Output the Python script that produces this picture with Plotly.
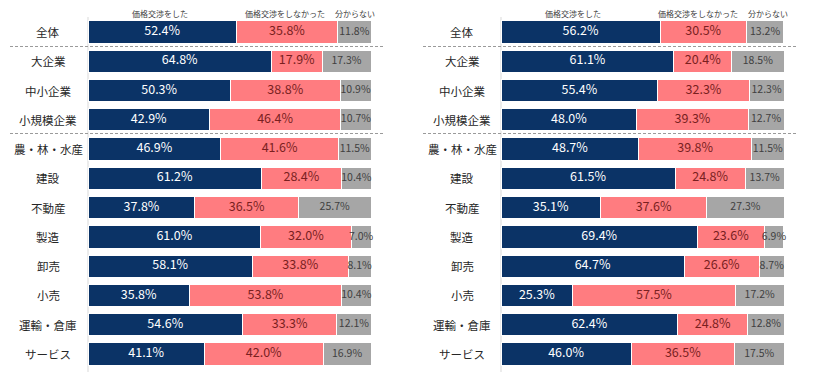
import plotly.graph_objects as go

categories = ["全体", "大企業", "中小企業", "小規模企業", "農・林・水産", "建設",
              "不動産", "製造", "卸売", "小売", "運輸・倉庫", "サービス"]
series_names = ["価格交渉をした", "価格交渉をしなかった", "分からない"]

left_did = [52.4, 64.8, 50.3, 42.9, 46.9, 61.2, 37.8, 61.0, 58.1, 35.8, 54.6, 41.1]
left_didnot = [35.8, 17.9, 38.8, 46.4, 41.6, 28.4, 36.5, 32.0, 33.8, 53.8, 33.3, 42.0]
left_unknown = [11.8, 17.3, 10.9, 10.7, 11.5, 10.4, 25.7, 7.0, 8.1, 10.4, 12.1, 16.9]

right_did = [56.2, 61.1, 55.4, 48.0, 48.7, 61.5, 35.1, 69.4, 64.7, 25.3, 62.4, 46.0]
right_didnot = [30.5, 20.4, 32.3, 39.3, 39.8, 24.8, 37.6, 23.6, 26.6, 57.5, 24.8, 36.5]
right_unknown = [13.2, 18.5, 12.3, 12.7, 11.5, 13.7, 27.3, 6.9, 8.7, 17.2, 12.8, 17.5]

colors = ["#0B3366", "#FF7C80", "#A6A6A6"]
text_colors = ["#FFFFFF", "#7A1F1F", "#404040"]
text_sizes = [12.5, 12.5, 10.5]
FONT = "Noto Sans CJK JP"

# page has an 8px body margin: figure pixel = screenshot pixel - 8
OFF = 8
W, H = 802, 365


def px(x):
    return (x - OFF) / W


def py(y):
    return 1 - (y - OFF) / H


fig = go.Figure()

panels = [("x", "y", [left_did, left_didnot, left_unknown]),
          ("x2", "y2", [right_did, right_didnot, right_unknown])]

for xa, ya, vals in panels:
    base = [0.0] * len(categories)
    for i, (name, v) in enumerate(zip(series_names, vals)):
        fig.add_trace(go.Bar(
            y=categories, x=v, orientation="h", name=name,
            xaxis=xa, yaxis=ya,
            marker=dict(color=colors[i], line=dict(color="white", width=1)),
            width=0.76, showlegend=False, hoverinfo="skip",
        ))
        mids = [b + val / 2 for b, val in zip(base, v)]
        fig.add_trace(go.Scatter(
            x=mids, y=categories, mode="text", xaxis=xa, yaxis=ya,
            text=[f"{val:.1f}%" for val in v],
            textposition="middle center",
            textfont=dict(color=text_colors[i], size=text_sizes[i], family=FONT),
            showlegend=False, cliponaxis=False, hoverinfo="skip",
        ))
        base = [b + val for b, val in zip(base, v)]

yrange = [11.5, -0.5]
common_x = dict(range=[0, 100], showgrid=False, zeroline=False, showticklabels=False,
                showline=False, fixedrange=True)
common_y = dict(type="category", categoryorder="array", categoryarray=categories,
                range=yrange, showticklabels=False, showgrid=False, zeroline=False,
                showline=False)

y_dom = [py(368.6), py(17.4)]
fig.update_layout(
    width=W, height=H,
    margin=dict(l=0, r=0, t=0, b=0),
    paper_bgcolor="white", plot_bgcolor="white",
    barmode="stack",
    font=dict(family=FONT, color="#222222"),
    xaxis=dict(domain=[px(88), px(371)], anchor="y", **common_x),
    xaxis2=dict(domain=[px(501), px(784)], anchor="y2", **common_x),
    yaxis=dict(domain=y_dom, anchor="x", **common_y),
    yaxis2=dict(domain=y_dom, anchor="x2", **common_y),
)

# category labels
for xpix, ya in [(48, "y"), (462, "y2")]:
    for c in categories:
        fig.add_annotation(x=px(xpix), xref="paper", y=c, yref=ya, text=c,
                           showarrow=False, xanchor="center", yanchor="middle",
                           font=dict(size=11.5, color="#262626", family=FONT))

# header labels
headers = [(160, 285, 355), (573, 698, 768)]
for hx in headers:
    for name, xp in zip(series_names, hx):
        fig.add_annotation(x=px(xp), xref="paper", y=py(13), yref="paper",
                           text=name, showarrow=False, xanchor="center", yanchor="middle",
                           font=dict(size=8, color="#404040", family=FONT))

# dashed separators and axis lines
for x0, x1, ax in [(10, 385, 88), (423, 798, 501)]:
    for yp in [46.5, 133.5]:
        fig.add_shape(type="line", xref="paper", yref="paper",
                      x0=px(x0), x1=px(x1), y0=py(yp), y1=py(yp),
                      line=dict(color="#9A9A9A", width=1, dash="3px,2px"))
    fig.add_shape(type="line", xref="paper", yref="paper",
                  x0=px(ax), x1=px(ax), y0=py(372), y1=py(17),
                  line=dict(color="#D9D9D9", width=1), layer="below")

fig.write_html("out.html")
